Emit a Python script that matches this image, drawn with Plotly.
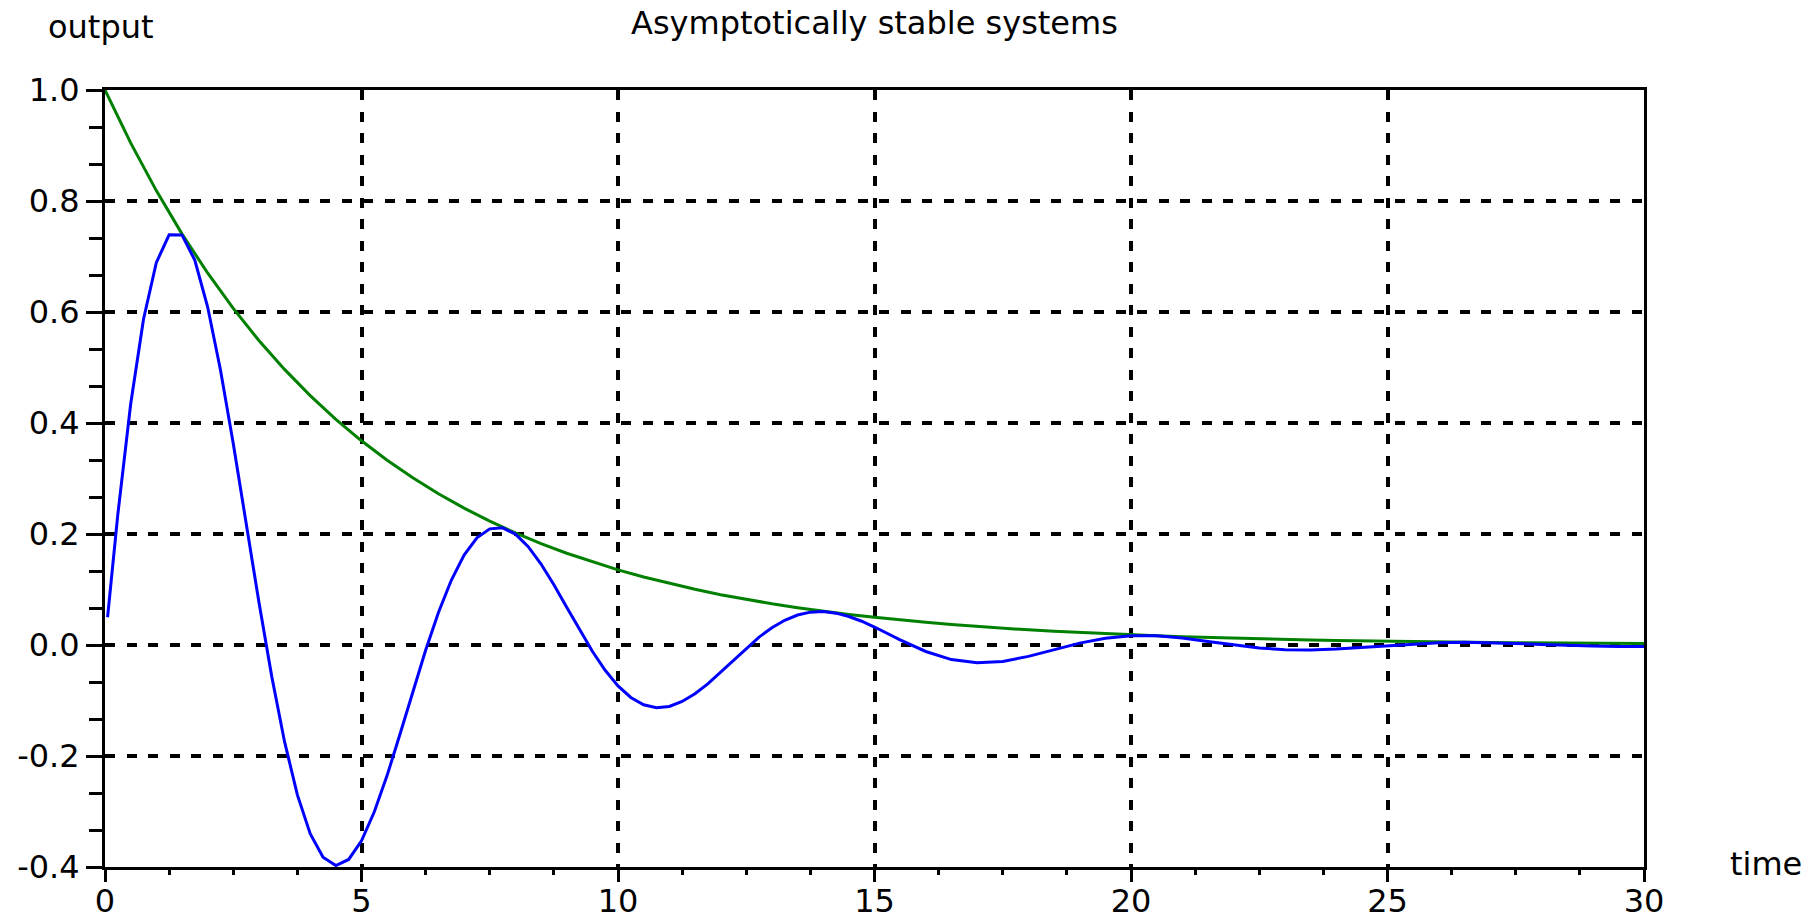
import plotly.graph_objects as go

# ---- data ----
t_blue = [0.05, 0.25, 0.5, 0.75, 1.0, 1.25, 1.5, 1.75, 2.0, 2.25, 2.5, 2.75, 3.0, 3.25, 3.5, 3.75,
          4.0, 4.25, 4.5, 4.75, 5.0, 5.25, 5.5, 5.75, 6.0, 6.25, 6.5, 6.75, 7.0, 7.25, 7.5, 7.75,
          8.0, 8.25, 8.5, 8.75, 9.0, 9.25, 9.5, 9.75, 10.0, 10.25, 10.5, 10.75, 11.0, 11.25, 11.5, 11.75,
          12.0, 12.25, 12.5, 12.75, 13.0, 13.25, 13.5, 13.75, 14.0, 14.25, 14.5, 14.75, 15.0,
          15.5, 16.0, 16.5, 17.0, 17.5, 18.0, 18.5, 19.0, 19.5, 20.0, 20.5, 21.0, 21.5, 22.0, 22.5,
          23.0, 23.5, 24.0, 24.5, 25.0, 25.5, 26.0, 26.5, 27.0, 27.5, 28.0, 28.5, 29.0, 29.5, 30.0]
y_blue = [0.050, 0.2353, 0.4338, 0.5866, 0.6889, 0.7391, 0.7389, 0.6934, 0.6095, 0.4961, 0.3630, 0.2202,
          0.0774, -0.0565, -0.1742, -0.2700, -0.3400, -0.3825, -0.3974, -0.3864, -0.3528, -0.3005,
          -0.2349, -0.1609, -0.0842, -0.0095, 0.0586, 0.1166, 0.1620, 0.1931, 0.2093, 0.2111, 0.1998,
          0.1772, 0.1459, 0.1086, 0.0681, 0.0274, -0.0113, -0.0455, -0.0736, -0.0945, -0.1078, -0.1131,
          -0.1108, -0.1017, -0.0878, -0.0700, -0.0487, -0.0268, -0.0054, 0.0142, 0.0312, 0.0446, 0.0540,
          0.0592, 0.0602, 0.0574, 0.0514, 0.0428, 0.0324,
          0.0092, -0.0117, -0.0263, -0.0321, -0.0296, -0.0205, -0.0084, 0.0034, 0.0122, 0.0167, 0.0165,
          0.0126, 0.0064, -0.0001, -0.0054, -0.0085, -0.0091, -0.0074, -0.0044, -0.0009, 0.0022, 0.0042,
          0.0049, 0.0043, 0.0029, 0.0010, -0.0007, -0.0020, -0.0026, -0.0025]

t_green = [0.0, 0.5, 1.0, 1.5, 2.0, 2.5, 3.0, 3.5, 4.0, 4.5, 5.0, 5.5, 6.0, 6.5, 7.0, 7.5, 8.0, 8.5,
           9.0, 9.5, 10.0, 10.5, 11.0, 11.5, 12.0, 12.5, 13.0, 13.5, 14.0, 14.5, 15.0, 15.5, 16.0,
           16.5, 17.0, 17.5, 18.0, 18.5, 19.0, 19.5, 20.0, 20.5, 21.0, 21.5, 22.0, 22.5, 23.0, 23.5,
           24.0, 24.5, 25.0, 25.5, 26.0, 26.5, 27.0, 27.5, 28.0, 28.5, 29.0, 29.5, 30.0]
y_green = [1.0, 0.9048, 0.8187, 0.7408, 0.6703, 0.6065, 0.5488, 0.4966, 0.4493, 0.4066, 0.3679, 0.3329,
           0.3012, 0.2725, 0.2466, 0.2231, 0.2019, 0.1827, 0.1653, 0.1496, 0.1353, 0.1225, 0.1108,
           0.1003, 0.0907, 0.0821, 0.0743, 0.0672, 0.0608, 0.0550, 0.0498, 0.0450, 0.0408, 0.0369,
           0.0334, 0.0302, 0.0273, 0.0247, 0.0224, 0.0202, 0.0183, 0.0166, 0.0150, 0.0136, 0.0123,
           0.0111, 0.0101, 0.0091, 0.0082, 0.0074, 0.0067, 0.0061, 0.0055, 0.0050, 0.0045, 0.0041,
           0.0037, 0.0033, 0.0030, 0.0027, 0.0025]

x_tick_vals = [0, 5, 10, 15, 20, 25, 30]
y_tick_vals = [-0.4, -0.2, 0.0, 0.2, 0.4, 0.6, 0.8, 1.0]
y_tick_text = ["-0.4", "-0.2", "0.0", "0.2", "0.4", "0.6", "0.8", "1.0"]

title_text = "Asymptotically stable systems"
y_label = "output"
x_label = "time"

FONT = "DejaVu Sans"
FS = 32

fig = go.Figure()
fig.add_trace(go.Scatter(x=t_green, y=y_green, mode="lines",
                         line=dict(color="#008000", width=3), showlegend=False))
fig.add_trace(go.Scatter(x=t_blue, y=y_blue, mode="lines",
                         line=dict(color="#0000FF", width=3), showlegend=False))

axis_common = dict(showline=True, linecolor="black", linewidth=3, mirror=True,
                   showgrid=True, gridcolor="black", gridwidth=3.5, griddash="10px,11.5px",
                   zeroline=False, ticks="outside", tickcolor="black", tickwidth=3,
                   automargin=False,
                   tickfont=dict(family=FONT, size=FS, color="black"))

fig.update_xaxes(range=[0, 30], tickmode="array", tickvals=x_tick_vals, ticklen=12,
                 ticklabelstandoff=-8,
                 minor=dict(tickmode="linear", tick0=0, dtick=1.25, ticklen=5, tickwidth=3,
                            tickcolor="black", ticks="outside", showgrid=False),
                 **axis_common)
fig.update_yaxes(range=[-0.4, 1.0], tickmode="array", tickvals=y_tick_vals, ticktext=y_tick_text,
                 ticklen=16,
                 minor=dict(tickmode="linear", tick0=-0.4, dtick=0.2 / 3, ticklen=13, tickwidth=3,
                            tickcolor="black", ticks="outside", showgrid=False),
                 **axis_common)

fig.add_annotation(text=title_text, xref="paper", yref="paper", x=0.5, y=1.086,
                   xanchor="center", yanchor="middle", showarrow=False,
                   font=dict(family=FONT, size=FS, color="black"))
fig.add_annotation(text=y_label, xref="paper", yref="paper", x=-0.0023, y=1.081,
                   xanchor="center", yanchor="middle", showarrow=False,
                   font=dict(family=FONT, size=FS, color="black"))
fig.add_annotation(text=x_label, xref="paper", yref="paper", x=1.0793, y=0.004,
                   xanchor="center", yanchor="middle", showarrow=False,
                   font=dict(family=FONT, size=FS, color="black"))

fig.update_layout(width=1818, height=924, autosize=False,
                  margin=dict(l=105, r=174, t=90, b=57, pad=0, autoexpand=False),
                  paper_bgcolor="white", plot_bgcolor="white")

fig.write_html("out.html", config={"displayModeBar": False},
               post_script="document.body.style.margin='0';document.body.style.overflow='hidden';")
